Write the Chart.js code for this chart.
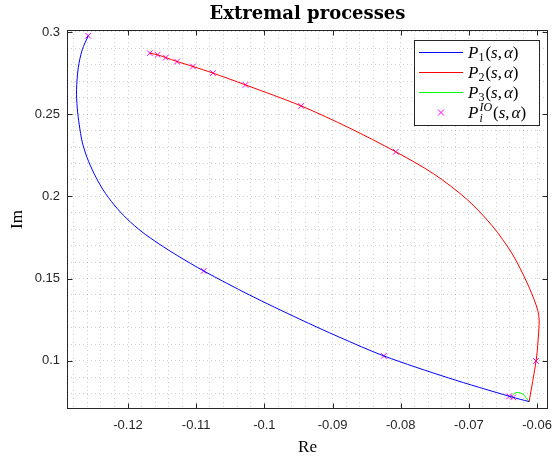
<!DOCTYPE html>
<html>
<head>
<meta charset="utf-8">
<script src="https://cdn.jsdelivr.net/npm/chart.js@4"></script>
<style>
  html, body { margin: 0; padding: 0; background: #fff; }
</style>
</head>
<body>
<canvas id="chart" width="553" height="457"></canvas>
<script>
// P1 (blue)
const p1Re = [-0.12584, -0.12672, -0.1273, -0.12755, -0.12745, -0.12715, -0.12672, -0.12599, -0.12496, -0.12365, -0.12204, -0.12015, -0.11796, -0.11547, -0.1127, -0.1089, -0.10219, -0.09489, -0.08905, -0.08248, -0.07299, -0.0638, -0.06117];
const p1Im = [0.2977, 0.2891, 0.2782, 0.2648, 0.2538, 0.2435, 0.2331, 0.2234, 0.2137, 0.2039, 0.1948, 0.1863, 0.1784, 0.1711, 0.1638, 0.1546, 0.1400, 0.1254, 0.1144, 0.1029, 0.0895, 0.0780, 0.0751];
// P2 (red)
const p2Re = [-0.11679, -0.11566, -0.11445, -0.1128, -0.11047, -0.10755, -0.10277, -0.0946, -0.08759, -0.08073, -0.07518, -0.07036, -0.06657, -0.06365, -0.06146, -0.06015, -0.05971, -0.05985, -0.06015, -0.06117];
const p2Im = [0.2871, 0.2861, 0.2844, 0.2820, 0.2790, 0.2750, 0.2678, 0.2550, 0.2417, 0.2271, 0.2137, 0.1984, 0.1820, 0.1650, 0.1473, 0.1339, 0.1260, 0.1126, 0.0998, 0.0751];
// P3 (green)
const p3Re = [-0.0638, -0.06336, -0.06277, -0.06204, -0.0616, -0.06117];
const p3Im = [0.0780, 0.0801, 0.0807, 0.0795, 0.0774, 0.0751];
// P_i^IO markers
const ioRe = [-0.12584, -0.1089, -0.08248, -0.06409, -0.0635, -0.11679, -0.11566, -0.11445, -0.1128, -0.11047, -0.10755, -0.10277, -0.0946, -0.08073, -0.06015];
const ioIm = [0.2977, 0.1546, 0.1029, 0.0783, 0.0777, 0.2871, 0.2861, 0.2844, 0.2820, 0.2790, 0.2750, 0.2678, 0.2550, 0.2271, 0.0998];

const xMajor = [-0.12, -0.11, -0.10, -0.09, -0.08, -0.07, -0.06];
const yMajor = [0.10, 0.15, 0.20, 0.25, 0.30];
const xMinor = [];
for (let k = -64; k <= -30; k++) xMinor.push(k * 0.002);
const yMinor = [];
for (let k = 8; k <= 30; k++) yMinor.push(k * 0.01);
const legendSubs = ['1', '2', '3'];

const pts = (xs, ys) => xs.map((v, i) => ({ x: v, y: ys[i] }));
const isMajor = (v, list) => list.some(m => Math.abs(m - v) < 1e-9);
const axisColor = '#262626';

function mathText(ctx, x, y, parts) {
  parts.forEach(p => {
    ctx.font = (p.it ? 'italic ' : '') + (p.size || 17) + 'px "Liberation Serif"';
    ctx.fillText(p.t, x, y + (p.dy || 0));
    x += ctx.measureText(p.t).width + (p.gap || 0);
  });
  return x;
}

const decorations = {
  id: 'decorations',
  afterDraw(chart) {
    const { ctx, chartArea: a, scales: { x, y } } = chart;
    ctx.save();
    // frame
    ctx.strokeStyle = axisColor;
    ctx.lineWidth = 1;
    const L = Math.round(a.left) + 0.5, R = Math.round(a.right) - 0.5;
    const T = Math.round(a.top) + 0.5, B = Math.round(a.bottom) - 0.5;
    ctx.strokeRect(L, T, R - L, B - T);
    // inward major ticks on all sides
    ctx.beginPath();
    xMajor.forEach(v => {
      const px = Math.round(x.getPixelForValue(v)) + 0.5;
      ctx.moveTo(px, B); ctx.lineTo(px, B - 5);
      ctx.moveTo(px, T); ctx.lineTo(px, T + 5);
    });
    yMajor.forEach(v => {
      const py = Math.round(y.getPixelForValue(v)) + 0.5;
      ctx.moveTo(L, py); ctx.lineTo(L + 5, py);
      ctx.moveTo(R, py); ctx.lineTo(R - 5, py);
    });
    ctx.stroke();

    // title and axis titles
    ctx.fillStyle = '#000';
    ctx.textAlign = 'center';
    ctx.textBaseline = 'alphabetic';
    ctx.font = 'bold 18px "DejaVu Serif"';
    ctx.fillText('Extremal processes', (a.left + a.right) / 2, 19);
    ctx.font = '17px "Liberation Serif"';
    ctx.fillText('Re', (a.left + a.right) / 2, 452);
    ctx.save();
    ctx.translate(22, (a.top + a.bottom) / 2);
    ctx.rotate(-Math.PI / 2);
    ctx.fillText('Im', 0, 0);
    ctx.restore();

    // legend
    const bx = 414.5, by = 40.5, bw = 125, bh = 85;
    ctx.fillStyle = '#fff';
    ctx.fillRect(bx, by, bw, bh);
    ctx.strokeStyle = axisColor;
    ctx.strokeRect(bx, by, bw, bh);
    ctx.textAlign = 'left';
    const ds = chart.data.datasets;
    const rows = [52.5, 72.5, 92.5, 112.5];
    rows.forEach((ry, i) => {
      const d = ds[i];
      ctx.strokeStyle = d.borderColor;
      ctx.lineWidth = 1;
      if (i < 3) {
        ctx.beginPath(); ctx.moveTo(419, ry); ctx.lineTo(463, ry); ctx.stroke();
      } else {
        ctx.beginPath();
        ctx.moveTo(438, ry - 3); ctx.lineTo(444, ry + 3);
        ctx.moveTo(438, ry + 3); ctx.lineTo(444, ry - 3);
        ctx.stroke();
      }
      ctx.fillStyle = '#000';
      const base = ry + 5;
      let tx = 468;
      if (i < 3) {
        tx = mathText(ctx, tx, base, [{ t: 'P', it: true }, { t: legendSubs[i], size: 12, dy: 3, gap: 1 }]);
      } else {
        tx = mathText(ctx, tx, base, [{ t: 'P', it: true }]);
        ctx.font = 'italic 12px "Liberation Serif"';
        const w1 = ctx.measureText('IO').width;
        ctx.fillText('IO', tx + 1, base - 7);
        ctx.fillText('i', tx + 1, base + 4);
        tx += w1 + 2;
      }
      mathText(ctx, tx, base, [
        { t: '(' }, { t: 's', it: true }, { t: ',', gap: 2 }, { t: 'α', it: true }, { t: ')' }
      ]);
    });
    ctx.restore();
  }
};

new Chart(document.getElementById('chart').getContext('2d'), {
  type: 'scatter',
  data: {
    datasets: [
      { label: 'P1', data: pts(p1Re, p1Im), showLine: true, borderColor: '#0000ff', borderWidth: 1, pointRadius: 0, tension: 0.3 },
      { label: 'P2', data: pts(p2Re, p2Im), showLine: true, borderColor: '#ff0000', borderWidth: 1, pointRadius: 0, tension: 0.3 },
      { label: 'P3', data: pts(p3Re, p3Im), showLine: true, borderColor: '#00ff00', borderWidth: 1, pointRadius: 0, tension: 0.3 },
      { label: 'PIO', data: pts(ioRe, ioIm), showLine: false, borderColor: '#ff00ff', backgroundColor: '#ff00ff', borderWidth: 1, pointStyle: 'crossRot', pointRadius: 4 }
    ]
  },
  options: {
    responsive: false,
    animation: false,
    layout: { padding: { top: 30, right: 3, left: 0, bottom: 0 } },
    plugins: { legend: { display: false }, title: { display: false }, tooltip: { enabled: false } },
    scales: {
      x: {
        type: 'linear', min: -0.12895, max: -0.0584,
        afterBuildTicks: s => { s.ticks = xMinor.map(v => ({ value: v })); },
        afterFit: s => { s.height = 48; s.paddingLeft = 0; s.paddingRight = 0; },
        grid: { color: 'rgba(38,38,38,0.22)', lineWidth: 1, drawTicks: false },
        border: { display: false, dash: [1, 3] },
        ticks: {
          autoSkip: false, maxRotation: 0, padding: 9, color: axisColor,
          font: { family: '"Liberation Sans", Arial, sans-serif', size: 13 },
          callback: v => isMajor(v, xMajor) ? String(Number(v.toFixed(2))) : ''
        }
      },
      y: {
        type: 'linear', min: 0.0706, max: 0.3012,
        afterBuildTicks: s => { s.ticks = yMinor.map(v => ({ value: v })); },
        afterFit: s => { s.width = 67; s.paddingTop = 0; s.paddingBottom = 0; },
        grid: { color: 'rgba(38,38,38,0.22)', lineWidth: 1, drawTicks: false },
        border: { display: false, dash: [1, 3] },
        ticks: {
          autoSkip: false, padding: 7, color: axisColor,
          font: { family: '"Liberation Sans", Arial, sans-serif', size: 13 },
          callback: v => isMajor(v, yMajor) ? String(Number(v.toFixed(2))) : ''
        }
      }
    }
  },
  plugins: [decorations]
});
</script>
</body>
</html>
